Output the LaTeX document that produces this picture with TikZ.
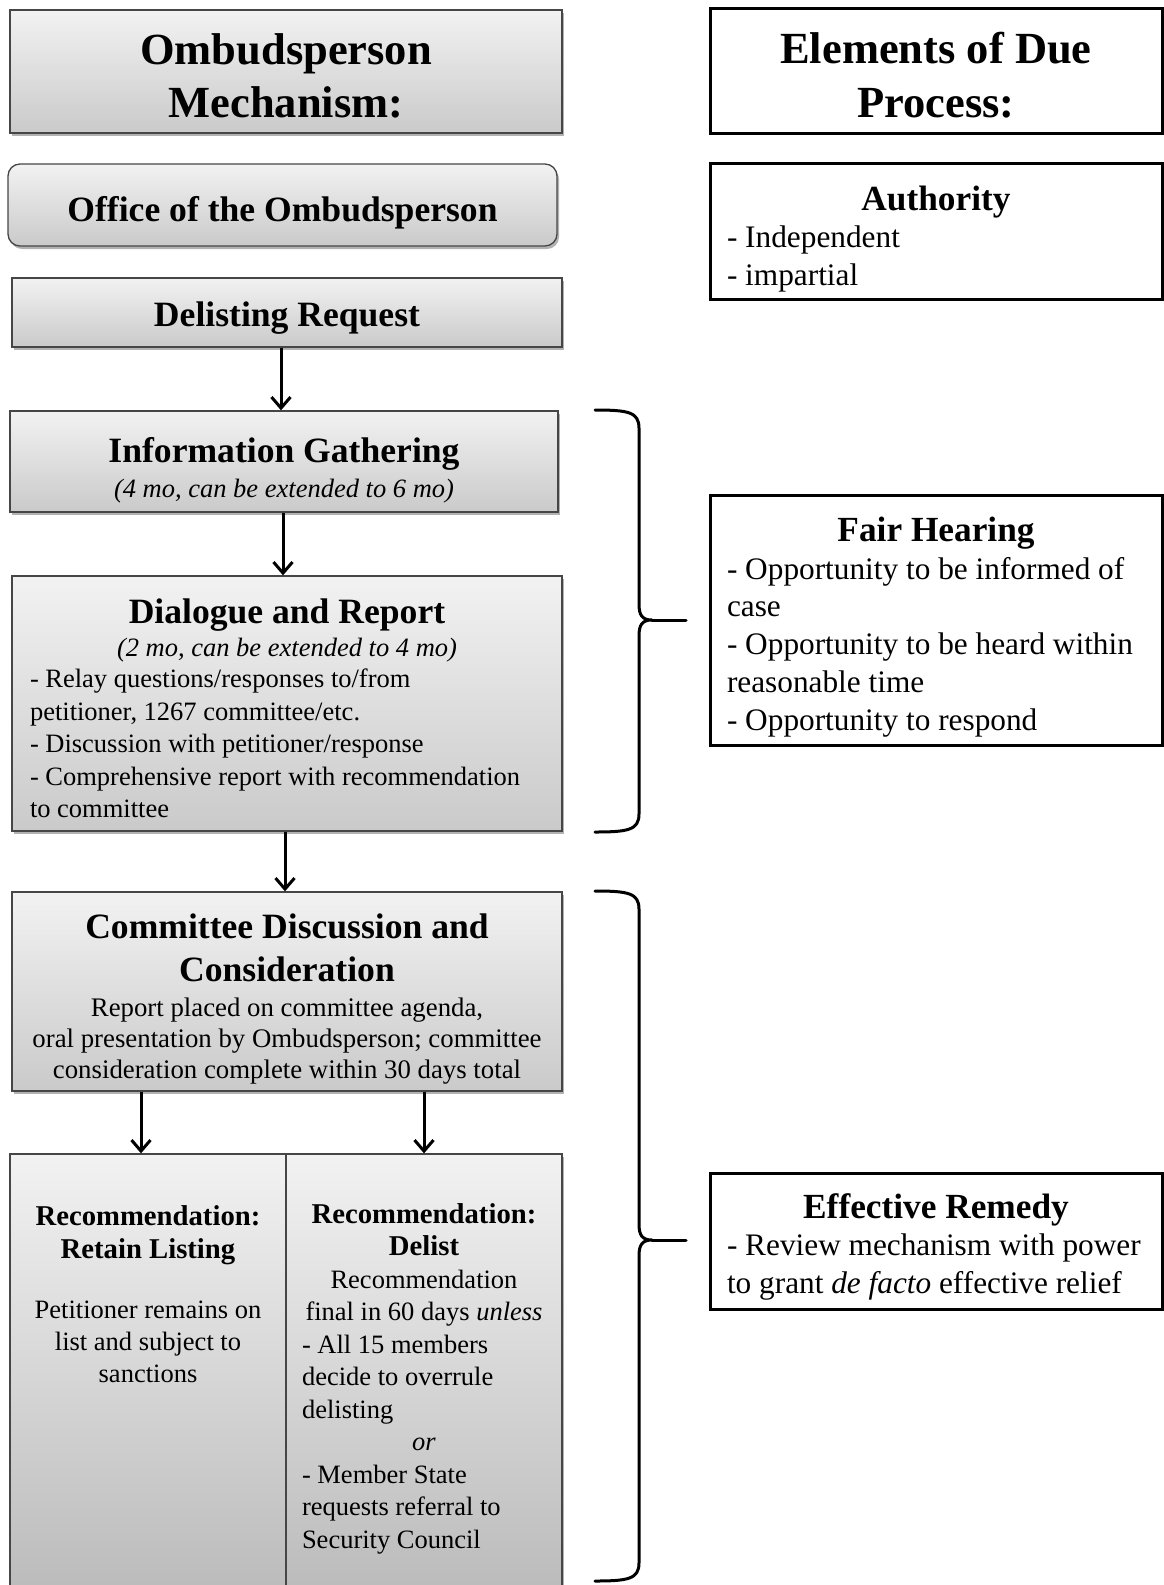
\documentclass[tikz,border=0pt]{standalone}
\usepackage{fontspec}
\setmainfont{Liberation Serif}
\usetikzlibrary{arrows.meta,shadows}
\definecolor{gtop}{RGB}{242,242,242}
\definecolor{gbot}{RGB}{202,202,202}
\definecolor{gbotlong}{RGB}{186,186,186}
\definecolor{gedge}{RGB}{70,70,70}
\newcommand\fixsp{\frenchspacing\spaceskip=0.25em\relax\xspaceskip=0.25em\relax}
\newcommand\szTitle{\fontsize{44.5}{53.5}\selectfont\bfseries\fixsp}
\newcommand\szHead{\fontsize{35.6}{43.2}\selectfont\bfseries\fixsp}
\newcommand\szRHead{\fontsize{35.3}{37.5}\selectfont\bfseries\fixsp}
\newcommand\szRBody[1]{\fontsize{31.3}{#1}\selectfont\fixsp}
\newcommand\szRec[1]{\fontsize{28.7}{#1}\selectfont\bfseries\fixsp}
\newcommand\szSmall[1]{\fontsize{26.5}{#1}\selectfont\fixsp}
\newcommand\szMid[1]{\fontsize{26.8}{#1}\selectfont\fixsp}
\begin{document}
\begin{tikzpicture}[x=1pt,y=-1pt,
  gbox/.style={draw=gedge, line width=1.3pt, top color=gtop, bottom color=gbot,
    drop shadow={shadow xshift=2pt,shadow yshift=-3pt,opacity=0.3,fill=black},
    inner xsep=0pt, inner ysep=0pt, anchor=base},
  wbox/.style={draw=black, line width=3pt, fill=white, inner xsep=0pt, inner ysep=0pt,
    anchor=base, align=flush left, text width=418pt, minimum width=452pt},
  arr/.style={line width=3pt, -{Straight Barb[length=11pt,width=19pt]}},
  brace/.style={line width=3pt, line cap=round, line join=round}]
\useasboundingbox (0,0) rectangle (1164,1585);
\clip (0,0) rectangle (1164,1585);
\fill[white] (0,0) rectangle (1164,1585);

% left column
\node[gbox, minimum width=552pt, text width=530pt, align=flush center, text height=54pt, text depth=69pt]
  (title) at (286,64) {\szTitle Ombudsperson\par Mechanism:\par};
\node[gbox, rounded corners=12pt, minimum width=549pt, text width=530pt, align=flush center, text height=57pt, text depth=25pt]
  (office) at (282.5,221) {\szHead Office of the Ombudsperson\par};
\node[gbox, minimum width=550pt, text width=530pt, align=flush center, text height=48pt, text depth=21pt]
  (delist) at (287,326) {\szHead Delisting Request\par};
\node[gbox, minimum width=548pt, text width=530pt, align=flush center, text height=51pt, text depth=50pt]
  (info) at (284,462) {{\szHead Information Gathering\par}
  {\szSmall{35.7}\itshape (4 mo, can be extended to 6 mo)\par}};
\node[gbox, minimum width=550pt, text width=514pt, align=flush left, text height=47.5pt, text depth=207.5pt]
  (dialog) at (287,623.5) {{\centering\szHead Dialogue and Report\par}
  {\centering\szSmall{33}\itshape (2 mo, can be extended to 4 mo)\par}
  {\szSmall{31}- Relay questions/responses to/from\par}
  {\szSmall{32.5}petitioner, 1267 committee/etc.\par
  - Discussion with petitioner/response\par
  - Comprehensive report with recommendation\par
  to committee\par}};
\node[gbox, minimum width=550pt, text width=534pt, align=flush center, text height=46.5pt, text depth=152.5pt]
  (committee) at (287,938.5) {{\szHead Committee Discussion and\par Consideration\par}
  {\szMid{34.3}Report placed on committee agenda,\par}
  {\szMid{31.3}oral presentation by Ombudsperson; committee\par
  consideration complete within 30 days total\par}};
\node[gbox, bottom color=gbotlong, minimum width=276pt, text width=256pt, align=flush center, text height=71pt, text depth=375pt]
  (retain) at (148,1225) {{\szRec{33.5}Recommendation:\par Retain Listing\par}
  {\szSmall{60}Petitioner remains on\par}
  {\szSmall{32}list and subject to\par sanctions\par}};
\node[gbox, bottom color=gbotlong, minimum width=276pt, text width=244pt, align=flush left, text height=69pt, text depth=377pt]
  (delistrec) at (424,1223) {{\centering\szRec{32.5}Recommendation:\par Delist\par}
  {\centering\szSmall{32.5}Recommendation\par final in 60 days \textit{unless}\par}
  {\szSmall{32.5}- All 15 members\par decide to overrule\par delisting\par
  {\centering\itshape or\par}
  - Member State\par requests referral to\par Security Council\par}};

% right column
\node[wbox, align=flush center, text height=55.5pt, text depth=70pt]
  (elements) at (936,63.5) {\szTitle Elements of Due\par Process:\par};
\node[wbox, text height=47pt, text depth=89pt]
  (authority) at (936,210) {{\centering\szRHead Authority\par}
  {\szRBody{37.5}- Independent\par - impartial\par}};
\node[wbox, text height=46.5pt, text depth=203.5pt]
  (fair) at (936,541.5) {{\centering\szRHead Fair Hearing\par}
  {\szRBody{37.7}- Opportunity to be informed of\par case\par
  - Opportunity to be heard within\par reasonable time\par
  - Opportunity to respond\par}};
\node[wbox, text height=45.5pt, text depth=90.5pt]
  (remedy) at (936,1218.5) {{\centering\szRHead Effective Remedy\par}
  {\szRBody{37.4}- Review mechanism with power\par
  to grant \textit{de facto} effective relief\par}};

% connectors
\coordinate (a1) at ([xshift=-6pt]delist.south);
\draw[arr] (a1) -- (a1 |- info.north);
\coordinate (a2) at ([xshift=-1pt]info.south);
\draw[arr] (a2) -- (a2 |- dialog.north);
\coordinate (a3) at ([xshift=-2pt]dialog.south);
\draw[arr] (a3) -- (a3 |- committee.north);
\coordinate (a4) at ([xshift=-7pt]retain.north);
\draw[arr] (a4 |- committee.south) -- (a4);
\draw[arr] (delistrec.north |- committee.south) -- (delistrec.north);

% braces
\draw[brace] (595,410) .. controls (628,410) and (639,412) .. (639,428) -- (639,604)
  .. controls (639,615) and (642,620) .. (652,620)
  .. controls (642,620) and (639,625) .. (639,636) -- (639,814)
  .. controls (639,830) and (628,832) .. (595,832);
\draw[brace] (652,620) -- (686,620);
\draw[brace] (595,891) .. controls (628,891) and (639,893) .. (639,909) -- (639,1224)
  .. controls (639,1235) and (642,1240) .. (652,1240)
  .. controls (642,1240) and (639,1245) .. (639,1256) -- (639,1563)
  .. controls (639,1579) and (628,1581) .. (595,1581);
\draw[brace] (652,1240) -- (686,1240);
\end{tikzpicture}
\end{document}
